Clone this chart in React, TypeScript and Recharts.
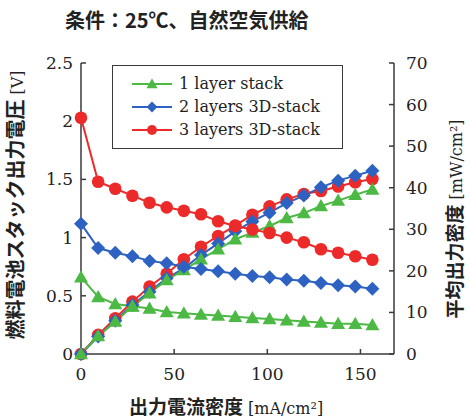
import { ComposedChart, Legend, Line, XAxis, YAxis } from "recharts";

// 出力電流密度 [mA/cm2]
const currentDensity = [0, 9.2, 18.4, 27.6, 36.8, 46, 55.2, 64.4, 73.6, 82.8, 92, 101.2, 110.4, 119.6, 128.8, 138, 147.2, 156.4];

// stack voltage [V]
const voltage1 = [0.66, 0.49, 0.43, 0.41, 0.39, 0.36, 0.35, 0.34, 0.33, 0.32, 0.31, 0.3, 0.29, 0.28, 0.27, 0.26, 0.26, 0.25];
const voltage2 = [1.12, 0.91, 0.87, 0.84, 0.8, 0.78, 0.75, 0.73, 0.71, 0.69, 0.67, 0.66, 0.64, 0.63, 0.61, 0.59, 0.58, 0.56];
const voltage3 = [2.03, 1.48, 1.42, 1.36, 1.3, 1.26, 1.23, 1.2, 1.14, 1.1, 1.07, 1.04, 1.0, 0.96, 0.9, 0.87, 0.84, 0.81];

// average power density [mW/cm2]
const power1 = [0, 4.3, 7.8, 11.4, 14.6, 17.8, 20.2, 22.8, 25.2, 27.6, 29.2, 30.8, 32.7, 33.9, 35.6, 36.9, 38.3, 39.6];
const power2 = [0, 4.2, 8.0, 11.8, 15.0, 18.2, 20.6, 23.8, 26.6, 29.5, 31.9, 34.0, 36.3, 38.1, 40.1, 41.7, 42.9, 44.1];
const power3 = [0, 4.6, 8.6, 12.6, 16.2, 19.3, 22.8, 25.8, 28.4, 30.9, 33.5, 35.5, 37.2, 38.5, 39.2, 40.3, 41.3, 42.1];

const seriesNames = ["1 layer stack", "2 layers 3D-stack", "3 layers 3D-stack"];
const xTicks = [0, 50, 100, 150];
const voltageTicks = [0, 0.5, 1, 1.5, 2, 2.5];
const powerTicks = [0, 10, 20, 30, 40, 50, 60, 70];

const GREEN = "#4cb944";
const BLUE = "#2d62c2";
const RED = "#ec2a2a";
const AXIS = "#3a3a3a";
const SERIF = "'DejaVu Serif', serif";
const CJK = "'Noto Sans CJK JP', sans-serif";

const data = currentDensity.map((x, i) => ({
  x,
  v1: voltage1[i],
  v2: voltage2[i],
  v3: voltage3[i],
  p1: power1[i],
  p2: power2[i],
  p3: power3[i],
}));

type Shape = "triangle" | "diamond" | "circle";

function marker(shape: Shape, cx: number, cy: number, s: number, color: string, key?: string | number) {
  if (shape === "triangle") {
    return (
      <path key={key} d={`M${cx},${cy - s}L${cx + s},${cy + s * 0.75}L${cx - s},${cy + s * 0.75}Z`} fill={color} />
    );
  }
  if (shape === "diamond") {
    return <path key={key} d={`M${cx},${cy - s}L${cx + s},${cy}L${cx},${cy + s}L${cx - s},${cy}Z`} fill={color} />;
  }
  return <circle key={key} cx={cx} cy={cy} r={s * 0.9} fill={color} />;
}

const makeDot = (shape: Shape, color: string) => (props: any) => {
  const { cx, cy, index } = props;
  if (cx == null || cy == null) return <g key={index} />;
  return marker(shape, cx, cy, 7, color, index);
};

const shapes: Record<string, Shape> = { v1: "triangle", v2: "diamond", v3: "circle" };

function LegendBox({ payload }: any) {
  const items = (payload || []).filter((p: any) => p.type !== "none");
  const order = ["v1", "v2", "v3"];
  items.sort((a: any, b: any) => order.indexOf(a.dataKey) - order.indexOf(b.dataKey));
  return (
    <div
      style={{
        border: `1.5px solid ${AXIS}`,
        background: "#fff",
        boxSizing: "border-box",
        width: 231,
        height: 84,
        padding: "6px 0 0 18px",
      }}
    >
      {items.map((item: any) => (
        <div key={item.dataKey} style={{ display: "flex", alignItems: "center", height: 23 }}>
          <svg width={42} height={16} style={{ marginRight: 6 }}>
            <line x1={1} y1={8} x2={41} y2={8} stroke={item.color} strokeWidth={2} />
            {marker(shapes[item.dataKey], 21, 8, 5.5, item.color)}
          </svg>
          <span style={{ fontFamily: SERIF, fontSize: 16, color: "#222", whiteSpace: "nowrap" }}>{item.value}</span>
        </div>
      ))}
    </div>
  );
}

const tickStyle = { fill: "#222", fontSize: 17, fontFamily: SERIF };

export default function App() {
  return (
    <div style={{ position: "absolute", left: 0, top: 0, width: 470, height: 418, background: "#fff" }}>
      <ComposedChart
        width={470}
        height={418}
        data={data}
        margin={{ top: 63, right: 36, bottom: 34, left: 51 }}
      >
        <XAxis
          dataKey="x"
          type="number"
          domain={[0, 168]}
          ticks={xTicks}
          height={30}
          tickSize={-5}
          tickMargin={19}
          stroke={AXIS}
          strokeWidth={1.5}
          tick={tickStyle}
        />
        <XAxis
          xAxisId="top"
          orientation="top"
          dataKey="x"
          type="number"
          domain={[0, 168]}
          height={0}
          tick={false}
          tickLine={false}
          stroke={AXIS}
          strokeWidth={1.5}
        />
        <YAxis
          yAxisId="v"
          domain={[0, 2.5]}
          ticks={voltageTicks}
          width={30}
          tickSize={-5}
          tickMargin={13}
          stroke={AXIS}
          strokeWidth={1.5}
          tick={tickStyle}
        />
        <YAxis
          yAxisId="p"
          orientation="right"
          domain={[0, 70]}
          ticks={powerTicks}
          width={40}
          tickSize={-5}
          tickMargin={17}
          stroke={AXIS}
          strokeWidth={1.5}
          tick={{ ...tickStyle, textAnchor: "start" }}
        />
        <Legend
          layout="horizontal"
          verticalAlign="middle"
          align="center"
          content={<LegendBox />}
          wrapperStyle={{ position: "absolute", left: 112, top: 65, width: 231, height: 84 }}
        />
        <Line yAxisId="p" dataKey="p3" stroke={RED} strokeWidth={2} dot={makeDot("circle", RED)} legendType="none" isAnimationActive={false} />
        <Line yAxisId="p" dataKey="p2" stroke={BLUE} strokeWidth={2} dot={makeDot("diamond", BLUE)} legendType="none" isAnimationActive={false} />
        <Line yAxisId="p" dataKey="p1" stroke={GREEN} strokeWidth={2} dot={makeDot("triangle", GREEN)} legendType="none" isAnimationActive={false} />
        <Line yAxisId="v" dataKey="v3" name={seriesNames[2]} stroke={RED} strokeWidth={2} dot={makeDot("circle", RED)} isAnimationActive={false} />
        <Line yAxisId="v" dataKey="v2" name={seriesNames[1]} stroke={BLUE} strokeWidth={2} dot={makeDot("diamond", BLUE)} isAnimationActive={false} />
        <Line yAxisId="v" dataKey="v1" name={seriesNames[0]} stroke={GREEN} strokeWidth={2} dot={makeDot("triangle", GREEN)} isAnimationActive={false} />
      </ComposedChart>
      <svg width={470} height={418} style={{ position: "absolute", left: 0, top: 0, pointerEvents: "none" }}>
        <text x={65} y={28} fontFamily={CJK} fontWeight={700} fontSize={20} fill="#222">
          条件：25℃、自然空気供給
        </text>
        <text x={226} y={414} textAnchor="middle" fill="#222">
          <tspan fontFamily={CJK} fontWeight={700} fontSize={19}>出力電流密度</tspan>
          <tspan fontFamily={SERIF} fontSize={16}> [mA/cm²]</tspan>
        </text>
        <text x={23} y={205} textAnchor="middle" transform="rotate(-90 23 205)" fill="#222">
          <tspan fontFamily={CJK} fontWeight={700} fontSize={20}>燃料電池スタック出力電圧</tspan>
          <tspan fontFamily={SERIF} fontSize={16}>{"  [V]"}</tspan>
        </text>
        <text x={462} y={219} textAnchor="middle" transform="rotate(-90 462 219)" fill="#222">
          <tspan fontFamily={CJK} fontWeight={700} fontSize={19}>平均出力密度</tspan>
          <tspan fontFamily={SERIF} fontSize={16}> [mW/cm²]</tspan>
        </text>
      </svg>
    </div>
  );
}
